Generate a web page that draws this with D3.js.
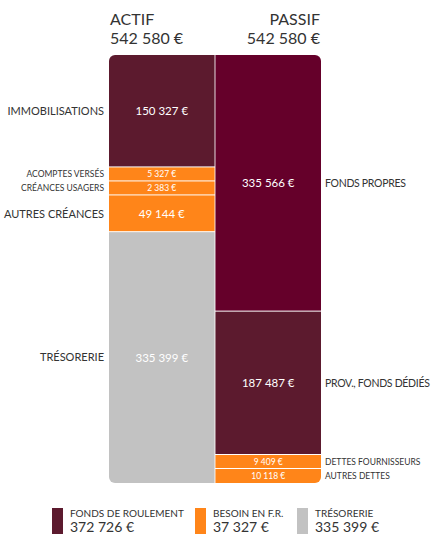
<!DOCTYPE html>
<html>
<head>
<meta charset="utf-8">
<script src="https://cdnjs.cloudflare.com/ajax/libs/d3/7.8.5/d3.min.js"></script>
<style>
  body { margin: 0; background: #fff; }
  svg text { font-family: Lato, "Open Sans", sans-serif; }
</style>
</head>
<body>
<div id="chart"></div>
<script>
// bilan fonctionnel : actif / passif
const columns = ['ACTIF', 'PASSIF'];
const totals = [542580, 542580];

const actifLabels = ['IMMOBILISATIONS', 'ACOMPTES VERSÉS', 'CRÉANCES USAGERS', 'AUTRES CRÉANCES', 'TRÉSORERIE'];
const actifValues = [150327, 5327, 2383, 49144, 335399];
const actifKinds = ['fr', 'bfr', 'bfr', 'bfr', 'treso'];

const passifLabels = ['FONDS PROPRES', 'PROV., FONDS DÉDIÉS', 'DETTES FOURNISSEURS', 'AUTRES DETTES'];
const passifValues = [335566, 187487, 9409, 10118];
const passifKinds = ['fp', 'fr', 'bfr', 'bfr'];

const legendLabels = ['FONDS DE ROULEMENT', 'BESOIN EN F.R.', 'TRÉSORERIE'];
const legendValues = [372726, 37327, 335399];
const legendKinds = ['fr', 'bfr', 'treso'];

const colors = {fr: '#5c1a2e', fp: '#65002a', bfr: '#ff8519', treso: '#c2c2c2'};

const width = 438, height = 534;
const colTop = 55, colBottom = 483;
const minH = 14, smallLimit = 20000;

const fmt = v => d3.format(',')(v).replace(/,/g, ' ') + ' €';

const svg = d3.select('#chart').append('svg')
    .attr('width', width)
    .attr('height', height);

const x = d3.scaleBand()
    .domain(columns)
    .range([109, 321])
    .paddingInner(0.008);

svg.append('clipPath').attr('id', 'clip')
  .append('rect')
    .attr('x', 109).attr('y', colTop)
    .attr('width', 212).attr('height', colBottom - colTop)
    .attr('rx', 6).attr('ry', 6);

// headers
columns.forEach((c, i) => {
  const g = svg.append('g')
      .attr('text-anchor', i === 0 ? 'start' : 'end');
  const tx = i === 0 ? x(c) + 1 : x(c) + x.bandwidth() - 1;
  g.append('text').attr('x', tx).attr('y', 25)
      .attr('font-size', 16).attr('fill', '#333').text(c);
  g.append('text').attr('x', tx).attr('y', 44)
      .attr('font-size', 16).attr('fill', '#333').text(fmt(totals[i]));
});

const drawColumn = (col, labels, values, kinds, side) => {
  const nSmall = values.filter(v => v < smallLimit).length;
  const bigSum = d3.sum(values.filter(v => v >= smallLimit));
  const y = d3.scaleLinear()
      .domain([0, bigSum])
      .range([0, colBottom - colTop - nSmall * minH]);

  let pos = colTop;
  const segs = values.map((v, i) => {
    const h = v < smallLimit ? minH : y(v);
    const s = {y: pos, h: h, v: v, label: labels[i], kind: kinds[i], small: v < smallLimit};
    pos += h;
    return s;
  });

  const g = svg.append('g');
  g.append('g').attr('clip-path', 'url(#clip)')
    .selectAll('rect').data(segs).join('rect')
      .attr('x', x(col))
      .attr('y', d => d.y)
      .attr('width', x.bandwidth())
      .attr('height', (d, i) => i === segs.length - 1 ? d.h : d.h - 1)
      .attr('fill', d => colors[d.kind]);

  g.selectAll('text.val').data(segs).join('text')
      .attr('class', 'val')
      .attr('x', x(col) + x.bandwidth() / 2)
      .attr('y', d => d.y + d.h / 2)
      .attr('dy', '0.35em')
      .attr('text-anchor', 'middle')
      .attr('font-size', d => d.small ? 8.5 : 11.5)
      .attr('fill', '#fff')
      .text(d => fmt(d.v));

  g.selectAll('text.lab').data(segs).join('text')
      .attr('class', 'lab')
      .attr('x', side === 'left' ? x(col) - 5 : x(col) + x.bandwidth() + 4)
      .attr('y', d => d.y + d.h / 2)
      .attr('dy', '0.35em')
      .attr('text-anchor', side === 'left' ? 'end' : 'start')
      .attr('font-size', d => d.small ? 8.5 : (side === 'left' ? 11 : 10.5))
      .attr('letter-spacing', d => !d.small && side === 'right' ? -0.3 : 0)
      .attr('fill', '#333')
      .text(d => d.label);
};

drawColumn('ACTIF', actifLabels, actifValues, actifKinds, 'left');
drawColumn('PASSIF', passifLabels, passifValues, passifKinds, 'right');

// legend
const lx = [52, 195, 297];
const leg = svg.append('g').selectAll('g').data(legendLabels).join('g')
    .attr('transform', (d, i) => `translate(${lx[i]},508)`);
leg.append('rect')
    .attr('width', 11).attr('height', 26)
    .attr('fill', (d, i) => colors[legendKinds[i]]);
leg.append('text')
    .attr('x', 18).attr('y', 9)
    .attr('font-size', 10).attr('fill', '#333')
    .text(d => d);
leg.append('text')
    .attr('x', 18).attr('y', 23.5)
    .attr('font-size', 14).attr('fill', '#333')
    .text((d, i) => fmt(legendValues[i]));
</script>
</body>
</html>
